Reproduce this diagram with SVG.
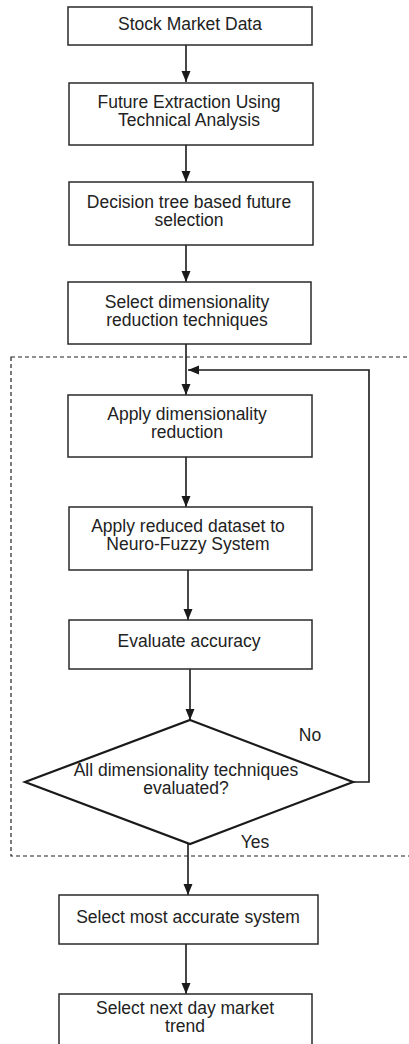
<svg xmlns="http://www.w3.org/2000/svg" width="409" height="1044" viewBox="0 0 409 1044">
<style>
.box{fill:#fff;stroke:#2a2a2a;stroke-width:1.5}
.dia{fill:#fff;stroke:#1a1a1a;stroke-width:2.2}
.t{font-family:"Liberation Sans",Arial,sans-serif;font-size:17.5px;fill:#222;text-anchor:middle}
.c{fill:none;stroke:#1a1a1a;stroke-width:1.6}
.dash{fill:none;stroke:#222;stroke-width:1.2;stroke-dasharray:4 3}
</style>
<defs>
<marker id="ah" markerUnits="userSpaceOnUse" markerWidth="12" markerHeight="12" viewBox="0 0 12 12" refX="11" refY="6" orient="auto">
<path d="M0,1.5 L11,6 L0,10.5 Z" fill="#1a1a1a"/>
</marker>
</defs>
<rect width="409" height="1044" fill="#fff"/>
<rect class="dash" x="11" y="357" width="420" height="499"/>
<g id="connectors">
<line class="c" x1="186" y1="45" x2="186" y2="82" marker-end="url(#ah)"/>
<line class="c" x1="186" y1="145" x2="186" y2="182" marker-end="url(#ah)"/>
<line class="c" x1="186" y1="245" x2="186" y2="282" marker-end="url(#ah)"/>
<line class="c" x1="186" y1="344" x2="186" y2="395" marker-end="url(#ah)"/>
<line class="c" x1="186" y1="457" x2="186" y2="507" marker-end="url(#ah)"/>
<line class="c" x1="188" y1="570" x2="188" y2="620" marker-end="url(#ah)"/>
<line class="c" x1="190" y1="669" x2="190" y2="720" marker-end="url(#ah)"/>
<polyline class="c" points="353,782 369,782 369,370 188,370" marker-end="url(#ah)"/>
<line class="c" x1="188" y1="844" x2="188" y2="895" marker-end="url(#ah)"/>
<line class="c" x1="186" y1="944" x2="186" y2="994" marker-end="url(#ah)"/>
<text class="t" x="310" y="741">No</text>
<text class="t" x="255" y="848">Yes</text>
</g>
<g id="n1"><rect class="box" x="68" y="7" width="244" height="38"/><text class="t" x="190" y="30">Stock Market Data</text></g>
<g id="n2"><rect class="box" x="69" y="83" width="244" height="62"/><text class="t" x="189" y="108">Future Extraction Using</text><text class="t" x="189" y="126">Technical Analysis</text></g>
<g id="n3"><rect class="box" x="69" y="182" width="244" height="63"/><text class="t" x="189" y="208">Decision tree based future</text><text class="t" x="189" y="226">selection</text></g>
<g id="n4"><rect class="box" x="68" y="282" width="243" height="62"/><text class="t" x="187" y="308">Select dimensionality</text><text class="t" x="187" y="326">reduction techniques</text></g>
<g id="n5"><rect class="box" x="68" y="395" width="244" height="62"/><text class="t" x="187" y="420">Apply dimensionality</text><text class="t" x="187" y="438">reduction</text></g>
<g id="n6"><rect class="box" x="69" y="507" width="243" height="63"/><text class="t" x="188" y="532">Apply reduced dataset to</text><text class="t" x="188" y="550">Neuro-Fuzzy System</text></g>
<g id="n7"><rect class="box" x="69" y="620" width="243" height="49"/><text class="t" x="189" y="647">Evaluate accuracy</text></g>
<g id="n8"><polygon class="dia" points="190,720 353,782 190,844 25,782"/><text class="t" x="186" y="776">All dimensionality techniques</text><text class="t" x="186" y="794">evaluated?</text></g>
<g id="n9"><rect class="box" x="59" y="895" width="259" height="49"/><text class="t" x="188" y="923">Select most accurate system</text></g>
<g id="n10"><rect class="box" x="59" y="994" width="253" height="60"/><text class="t" x="185" y="1014">Select next day market</text><text class="t" x="185" y="1032">trend</text></g>
</svg>
